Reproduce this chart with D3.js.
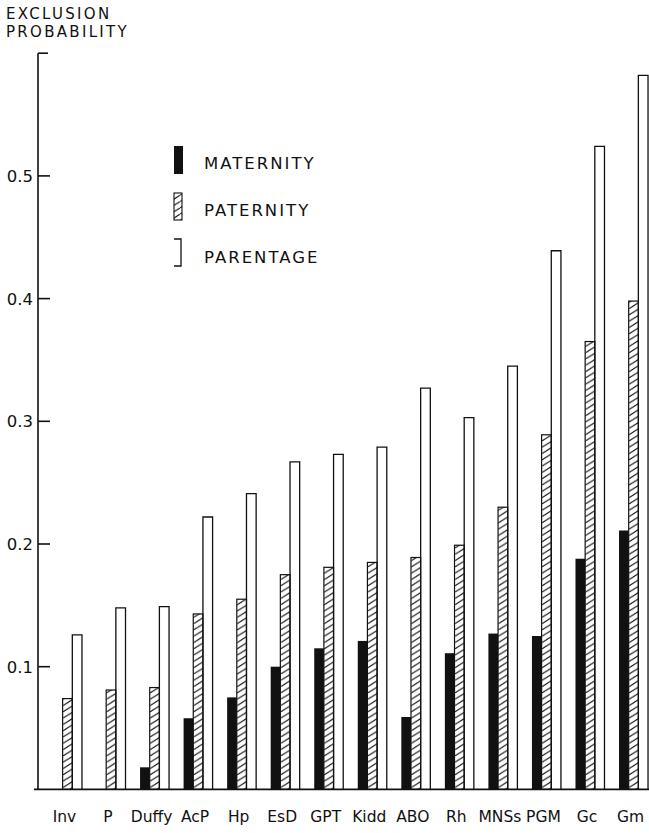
<!DOCTYPE html>
<html>
<head>
<meta charset="utf-8">
<script src="https://cdn.jsdelivr.net/npm/d3@7"></script>
<style>
  html, body { margin: 0; padding: 0; background: #fff; }
  svg { display: block; }
  text { font-family: "DejaVu Sans", sans-serif; fill: #111; }
</style>
</head>
<body>
<script>
// Genetic marker systems and exclusion probabilities
const systems = ["Inv", "P", "Duffy", "AcP", "Hp", "EsD", "GPT", "Kidd", "ABO", "Rh", "MNSs", "PGM", "Gc", "Gm"];
const maternity = [0, 0, 0.018, 0.058, 0.075, 0.100, 0.115, 0.121, 0.059, 0.111, 0.127, 0.125, 0.188, 0.211];
const paternity = [0.074, 0.081, 0.083, 0.143, 0.155, 0.175, 0.181, 0.185, 0.189, 0.199, 0.230, 0.289, 0.365, 0.398];
const parentage = [0.126, 0.148, 0.149, 0.222, 0.241, 0.267, 0.273, 0.279, 0.327, 0.303, 0.345, 0.439, 0.524, 0.582];
const seriesNames = ["MATERNITY", "PATERNITY", "PARENTAGE"];
const yTicks = [0.1, 0.2, 0.3, 0.4, 0.5];

const W = 649, H = 833;
const ink = "#111";

const svg = d3.select("body").append("svg")
  .attr("width", W).attr("height", H);

const defs = svg.append("defs");
const hatch = defs.append("pattern")
  .attr("id", "hatch")
  .attr("patternUnits", "userSpaceOnUse")
  .attr("width", 10).attr("height", 6.3);
hatch.append("path")
  .attr("d", "M0,6.3 L10,0 M-10,6.3 L0,0 M10,6.3 L20,0")
  .attr("stroke", ink).attr("stroke-width", 1.1).attr("fill", "none");

// Scales
const y = d3.scaleLinear().domain([0, 0.6]).range([789.4, 53.2]);
const x = d3.scaleBand().domain(systems)
  .range([45.7, 655.3]).paddingInner(0.334).paddingOuter(0.167);
const xs = d3.scaleBand().domain(seriesNames).range([0, x.bandwidth()]);

const rows = systems.map((s, i) => ({
  name: s, values: [maternity[i], paternity[i], parentage[i]]
}));

// Bars
const groups = svg.append("g").selectAll("g").data(rows).join("g")
  .attr("transform", d => `translate(${x(d.name)},0)`);

groups.filter(d => d.values[0] > 0).append("rect")
  .attr("x", xs("MATERNITY"))
  .attr("y", d => y(d.values[0]))
  .attr("width", xs.bandwidth())
  .attr("height", d => y(0) - y(d.values[0]))
  .attr("fill", ink);

groups.append("rect")
  .attr("x", xs("PATERNITY"))
  .attr("y", d => y(d.values[1]))
  .attr("width", xs.bandwidth())
  .attr("height", d => y(0) - y(d.values[1]))
  .attr("fill", "url(#hatch)")
  .attr("stroke", ink).attr("stroke-width", 1.2);

groups.append("path")
  .attr("d", d => {
    const x0 = xs("PARENTAGE"), x1 = x0 + xs.bandwidth();
    return `M${x0},${y(0)} V${y(d.values[2])} H${x1} V${y(0)}`;
  })
  .attr("fill", "none").attr("stroke", ink).attr("stroke-width", 1.3);

// Axes
const axisG = svg.append("g");
axisG.append("line")
  .attr("x1", 38).attr("x2", 38).attr("y1", y(0.6)).attr("y2", y(0))
  .attr("stroke", ink).attr("stroke-width", 1.6);
axisG.append("line")
  .attr("x1", 38).attr("x2", 48).attr("y1", y(0.6)).attr("y2", y(0.6))
  .attr("stroke", ink).attr("stroke-width", 1.6);
axisG.append("line")
  .attr("x1", 34).attr("x2", 649).attr("y1", y(0)).attr("y2", y(0))
  .attr("stroke", ink).attr("stroke-width", 1.6);

const tickG = axisG.selectAll("g.tick").data(yTicks).join("g")
  .attr("class", "tick")
  .attr("transform", d => `translate(0,${y(d)})`);
tickG.append("line")
  .attr("x1", 38).attr("x2", 50)
  .attr("stroke", ink).attr("stroke-width", 1.6);
tickG.append("text")
  .attr("x", 33).attr("y", 6)
  .attr("text-anchor", "end")
  .attr("font-size", 16.5)
  .text(d => d3.format(".1f")(d));

// Category labels
svg.append("g").selectAll("text").data(systems).join("text")
  .attr("x", d => x(d) + x.bandwidth() / 2 - 3)
  .attr("y", 822)
  .attr("text-anchor", "middle")
  .attr("font-size", 15.5)
  .text(d => d);

// Axis title
const title = svg.append("text").attr("font-size", 15).attr("letter-spacing", 2.3);
title.append("tspan").attr("x", 6).attr("y", 19).text("EXCLUSION");
title.append("tspan").attr("x", 6).attr("y", 37).text("PROBABILITY");

// Legend
const leg = svg.append("g");
leg.append("rect").attr("x", 174).attr("y", 146).attr("width", 9).attr("height", 28).attr("fill", ink);
leg.append("rect").attr("x", 174).attr("y", 193).attr("width", 8).attr("height", 27)
  .attr("fill", "url(#hatch)").attr("stroke", ink).attr("stroke-width", 1.1);
leg.append("path").attr("d", "M174,239 H181 V266 H174")
  .attr("fill", "none").attr("stroke", ink).attr("stroke-width", 1.3);
leg.selectAll("text.lab").data(seriesNames).join("text")
  .attr("class", "lab")
  .attr("x", 204)
  .attr("y", (d, i) => 169 + i * 47)
  .attr("font-size", 16.5)
  .attr("letter-spacing", 2)
  .text(d => d);
</script>
</body>
</html>
